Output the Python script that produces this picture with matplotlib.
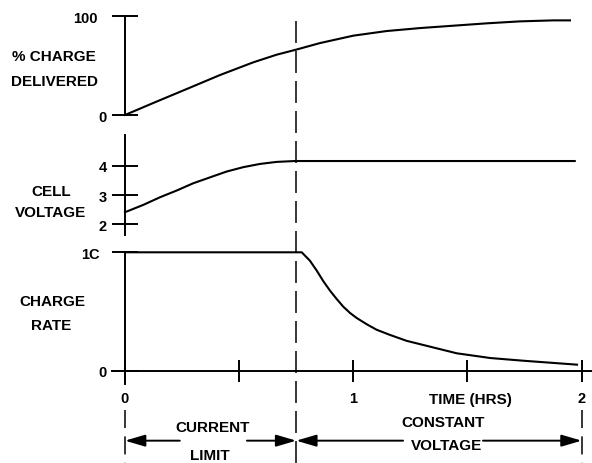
import matplotlib
matplotlib.use('Agg')
import matplotlib.pyplot as plt
from matplotlib.transforms import blended_transform_factory

plt.rcParams['font.family'] = ['Liberation Sans', 'DejaVu Sans']
plt.rcParams['font.weight'] = 'bold'
plt.rcParams['lines.scale_dashes'] = False

# Datos (tiempo en horas)
t_charge = [0, 0.124, 0.27, 0.416, 0.562, 0.664, 0.749, 0.854, 1.0, 1.146,
            1.292, 1.438, 1.584, 1.73, 1.876, 1.949]
pct_charge = [0, 12.2, 26.3, 40.5, 53.4, 61.1, 66.2, 72.9, 80.4, 85.1,
              88.1, 90.5, 92.9, 94.9, 95.9, 95.9]

t_volt = [0, 0.08, 0.153, 0.226, 0.299, 0.372, 0.445, 0.518, 0.591, 0.664,
          0.745, 1.97]
cell_volt = [2.42, 2.67, 2.93, 3.16, 3.41, 3.61, 3.81, 3.96, 4.07, 4.14,
             4.17, 4.17]

t_rate = [0, 0.774, 0.81, 0.84, 0.869, 0.898, 0.927, 0.956, 0.986, 1.015,
          1.059, 1.102, 1.161, 1.234, 1.307, 1.453, 1.6, 1.746, 1.98]
charge_rate = [1.0, 1.0, 0.929, 0.845, 0.755, 0.676, 0.606, 0.541, 0.487, 0.445,
               0.392, 0.346, 0.302, 0.252, 0.217, 0.147, 0.107, 0.084, 0.051]

t_switch = 0.75   # limite de corriente -> voltaje constante
t_end = 2.0

pct_ticks = [0, 100]
pct_labels = ['0', '100']
volt_ticks = [2, 3, 4]
volt_labels = ['2', '3', '4']
rate_ticks = [0, 1]
rate_labels = ['0', '1C']
time_ticks = [0, 0.5, 1, 1.5, 2]
time_labels = ['0', '', '1', '', '2']

W, H = 592, 464
fig = plt.figure(figsize=(W / 100, H / 100), dpi=100)


def rows(top, bottom):
    return [0, 1 - bottom / H, 1, (bottom - top) / H]


xlim = (-125 / 228.3, (W - 125) / 228.3)

ax_p = fig.add_axes(rows(5, 125))
ax_v = fig.add_axes(rows(128, 240))
ax_r = fig.add_axes(rows(245, 464))


def style(ax, ylim, bounds, ticks, labels, offsets):
    ax.set_xlim(*xlim)
    ax.set_ylim(*ylim)
    ax.patch.set_visible(False)
    for s in ['top', 'right', 'bottom']:
        ax.spines[s].set_visible(False)
    ax.spines['left'].set_position(('data', 0))
    ax.spines['left'].set_bounds(*bounds)
    ax.spines['left'].set_linewidth(1.4)
    ax.set_yticks(ticks)
    ax.tick_params(axis='y', direction='inout', length=19, width=1.4,
                   labelleft=False)
    ax.tick_params(axis='x', bottom=False, labelbottom=False)
    for v, lab, off in zip(ticks, labels, offsets):
        ax.annotate(lab, (0, v), xytext=(-off, -1.5), textcoords='offset pixels',
                    ha='right', va='center', fontsize=10.5, fontweight='bold')


style(ax_p, (-9.12, 112.5), (0, 100), pct_ticks, pct_labels, [18, 27])
style(ax_v, (1.504, 5.333), (1.64, 5.06), volt_ticks, volt_labels, [18, 18, 18])
style(ax_r, (-0.7796, 1.0701), (-0.112, 1), rate_ticks, rate_labels, [18, 25])

ax_p.plot(t_charge, pct_charge, color='black', lw=1.5)
ax_v.plot(t_volt, cell_volt, color='black', lw=1.5)
ax_r.plot(t_rate, charge_rate, color='black', lw=1.5)

# eje de tiempo
ax_r.spines['bottom'].set_visible(True)
ax_r.spines['bottom'].set_position(('data', 0))
ax_r.spines['bottom'].set_bounds(-0.057, xlim[1])
ax_r.spines['bottom'].set_linewidth(1.4)
ax_r.set_xticks(time_ticks)
ax_r.set_xticklabels(time_labels)
ax_r.tick_params(axis='x', bottom=True, labelbottom=True, direction='inout',
                 length=15.8, width=1.4, pad=7, labelsize=10.5)
ax_r.text(1.511, -0.24, 'TIME (HRS)', ha='center', va='center', fontsize=11,
          fontweight='bold')

# líneas discontinuas
trans = blended_transform_factory(ax_r.transData, fig.transFigure)
ax_r.plot([t_switch, t_switch], [1 - 22 / H, 0], transform=trans, clip_on=False,
          color='black', lw=1.1, dashes=(15.8, 5.8))
for tx in [0, t_end]:
    ax_r.plot([tx, tx], [1 - 411 / H, 0], transform=trans, clip_on=False,
              color='black', lw=1.1, dashes=(13, 6))

# flechas
arrow_y = -0.591
arrow_kw = dict(arrowstyle='-|>,head_length=0.61,head_width=0.18',
                color='black', lw=1.4, shrinkA=0, shrinkB=0, mutation_scale=20)
for start, tip in [(0.24, 0), (0.534, t_switch), (1.218, t_switch), (1.568, t_end)]:
    ax_r.annotate('', xy=(tip, arrow_y), xytext=(start, arrow_y),
                  arrowprops=arrow_kw, annotation_clip=False)

# textos
labels = [('% CHARGE', 54, 61), ('DELIVERED', 54, 86),
          ('CELL', 51, 196), ('VOLTAGE', 51, 217),
          ('CHARGE', 52, 306), ('RATE', 51, 329.5),
          ('CURRENT', 213, 432.5), ('LIMIT', 210, 460),
          ('CONSTANT', 443, 427.5), ('VOLTAGE', 447, 450)]
for s, px, py in labels:
    fig.text(px / W, 1 - py / H, s, ha='center', va='baseline', fontsize=11,
             fontweight='bold')

fig.savefig('out.png', dpi=100)
